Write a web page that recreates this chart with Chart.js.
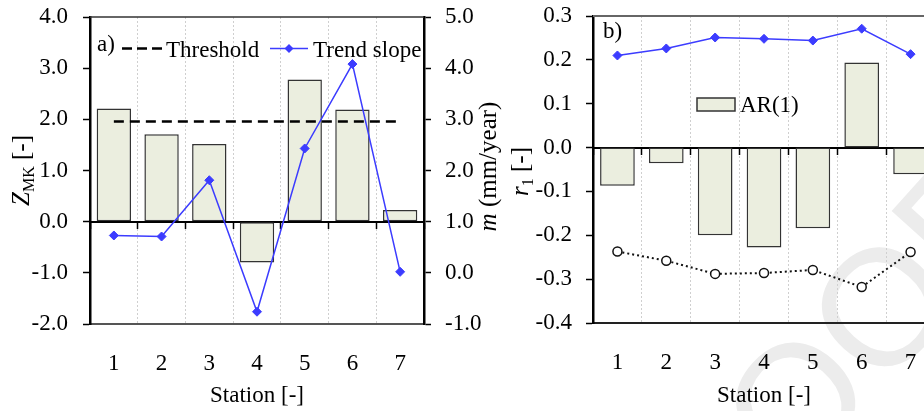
<!DOCTYPE html>
<html>
<head>
<meta charset="utf-8">
<script src="https://cdn.jsdelivr.net/npm/chart.js@4.4.1/dist/chart.umd.min.js"></script>
<style>
  html, body { margin: 0; padding: 0; background: #fff; overflow: hidden; }
  #wrap { position: relative; width: 924px; height: 411px; overflow: hidden; }
  canvas { position: absolute; top: 0; }
  #chartA { left: 0; }
  #chartB { left: 505px; }
</style>
</head>
<body>
<div id="wrap">
  <canvas id="chartA" width="505" height="411"></canvas>
  <canvas id="chartB" width="495" height="411"></canvas>
</div>
<script>
// stations along the x axis
const stations = ['1', '2', '3', '4', '5', '6', '7'];

// panel a) Mann-Kendall Z, significance threshold, trend slope (mm/year)
const zmk = [2.21, 1.71, 1.52, -0.80, 2.78, 2.19, 0.23];
const threshold = [1.96, 1.96, 1.96, 1.96, 1.96, 1.96, 1.96];
const trendSlope = [0.73, 0.71, 1.81, -0.76, 2.43, 4.08, 0.02];

// panel b) lag-1 autocorrelation and its upper / lower limits
const ar1 = [-0.087, -0.036, -0.200, -0.228, -0.184, 0.194, -0.061];
const upperLimit = [0.210, 0.226, 0.251, 0.248, 0.244, 0.271, 0.213];
const lowerLimit = [-0.237, -0.258, -0.288, -0.286, -0.279, -0.318, -0.238];

const serif = '"Liberation Serif", "Times New Roman", serif';
const barFill = '#ebeedf';
const blue = '#3c3cff';
const tickFont = { family: serif, size: 23 };

Chart.defaults.font.family = serif;
Chart.defaults.font.size = 23;
Chart.defaults.color = '#000';
Chart.defaults.animation = false;

// one decimal on every axis, no "-0.0"
function fmt(v) {
  return Math.abs(v) < 1e-9 ? '0.0' : Number(v).toFixed(1);
}

// fixed axis sizes, so the plot areas sit where they are in the figure;
// label overhang is dropped so it does not push the plot area in
function fixWidth(w) {
  return (scale) => { scale.width = w; scale.paddingTop = 0; scale.paddingBottom = 0; };
}
function fixHeight(h) {
  return (scale) => { scale.height = h; scale.paddingLeft = 0; scale.paddingRight = 0; };
}

// text made of parts (italic letters, subscripts), optionally rotated
function drawParts(ctx, parts, x, y, rotate) {
  ctx.save();
  ctx.translate(x, y);
  if (rotate) ctx.rotate(-Math.PI / 2);
  let total = 0;
  for (const p of parts) {
    ctx.font = p.font;
    total += ctx.measureText(p.text).width;
  }
  let cx = -total / 2;
  ctx.fillStyle = '#000';
  ctx.textAlign = 'left';
  ctx.textBaseline = 'alphabetic';
  for (const p of parts) {
    ctx.font = p.font;
    ctx.fillText(p.text, cx, p.dy || 0);
    cx += ctx.measureText(p.text).width;
  }
  ctx.restore();
}

function diamond(ctx, x, y, r, color) {
  ctx.save();
  ctx.fillStyle = color;
  ctx.beginPath();
  ctx.moveTo(x, y - r);
  ctx.lineTo(x + r, y);
  ctx.lineTo(x, y + r);
  ctx.lineTo(x - r, y);
  ctx.closePath();
  ctx.fill();
  ctx.restore();
}

// thin line on top of the plot area
function frameTop(color, width) {
  return {
    id: 'frameTop',
    afterDraw(chart) {
      const {ctx, chartArea} = chart;
      ctx.save();
      ctx.strokeStyle = color;
      ctx.lineWidth = width;
      ctx.beginPath();
      ctx.moveTo(chartArea.left, chartArea.top);
      ctx.lineTo(chartArea.right, chartArea.top);
      ctx.stroke();
      ctx.restore();
    }
  };
}

const titleFont = '25px ' + serif;
const italicFont = 'italic 25px ' + serif;
const subFont = '16px ' + serif;

// the axis scale options shared by the value axes
function valueAxis(pos, min, max, step, pad, width) {
  return {
    position: pos,
    min: min,
    max: max,
    ticks: { stepSize: step, padding: pad, callback: fmt, font: tickFont, color: '#000' },
    grid: { drawOnChartArea: false, drawTicks: true, tickLength: 7, tickColor: '#000', tickWidth: 1.5 },
    border: { display: true, color: '#000', width: 2.5 },
    afterFit: fixWidth(width)
  };
}

function stationAxis(height, borderColor) {
  return {
    type: 'category',
    position: 'bottom',
    offset: true,
    grid: { display: true, offset: true, drawOnChartArea: true, drawTicks: false, color: '#cfcfcf', lineWidth: 1 },
    border: { display: true, color: borderColor, width: 2, dash: [2, 2] },
    ticks: { padding: 26, maxRotation: 0, autoSkip: false, font: tickFont, color: '#000' },
    afterFit: fixHeight(height)
  };
}

// second category axis sitting on y = 0, only for the small ticks there
function zeroAxis() {
  return {
    type: 'category',
    axis: 'x',
    position: { y: 0 },
    offset: true,
    grid: { display: true, offset: true, drawOnChartArea: false, drawTicks: true, tickLength: 6, tickColor: '#000', tickWidth: 1.5 },
    border: { display: true, color: '#000', width: 2 },
    ticks: { display: false }
  };
}

// ---------- panel a ----------
const legendA = {
  id: 'legendA',
  afterDraw(chart) {
    const ctx = chart.ctx;
    const th = chart.data.datasets[1];
    const tr = chart.data.datasets[2];
    ctx.save();
    ctx.font = '23px ' + serif;
    ctx.fillStyle = '#000';
    ctx.textBaseline = 'alphabetic';
    ctx.fillText('a)', 97, 51);
    // threshold sample
    ctx.strokeStyle = th.borderColor;
    ctx.lineWidth = th.borderWidth;
    ctx.setLineDash([10, 5]);
    ctx.beginPath();
    ctx.moveTo(122, 48.5);
    ctx.lineTo(162, 48.5);
    ctx.stroke();
    ctx.setLineDash([]);
    ctx.fillText(th.label, 166, 57);
    // trend slope sample
    ctx.strokeStyle = tr.borderColor;
    ctx.lineWidth = tr.borderWidth;
    ctx.beginPath();
    ctx.moveTo(270, 48.5);
    ctx.lineTo(308, 48.5);
    ctx.stroke();
    diamond(ctx, 289, 48.5, tr.pointRadius, tr.pointBackgroundColor);
    ctx.fillText(tr.label, 313, 57);
    ctx.restore();
  }
};

const titlesA = {
  id: 'titlesA',
  afterDraw(chart) {
    const {ctx, chartArea} = chart;
    const midY = (chartArea.top + chartArea.bottom) / 2;
    drawParts(ctx, [{ text: 'Station [-]', font: '23px ' + serif }],
      (chartArea.left + chartArea.right) / 2, 402, false);
    drawParts(ctx, [
      { text: 'Z', font: italicFont },
      { text: 'MK', font: subFont, dy: 5 },
      { text: ' [-]', font: titleFont }
    ], 29, midY, true);
    drawParts(ctx, [
      { text: 'm', font: italicFont },
      { text: ' (mm/year)', font: titleFont }
    ], 496, midY - 4, true);
  }
};

new Chart(document.getElementById('chartA'), {
  type: 'bar',
  data: {
    labels: stations,
    datasets: [
      {
        type: 'bar', label: 'ZMK', data: zmk, xAxisID: 'x', yAxisID: 'y',
        backgroundColor: barFill, borderColor: '#333', borderWidth: 1.5, borderSkipped: false,
        categoryPercentage: 1, barPercentage: 0.72, order: 3
      },
      {
        type: 'line', label: 'Threshold', data: threshold, xAxisID: 'x', yAxisID: 'y',
        borderColor: '#000', borderWidth: 2.5, borderDash: [10, 6], pointRadius: 0, order: 2
      },
      {
        type: 'line', label: 'Trend slope', data: trendSlope, xAxisID: 'x', yAxisID: 'y1',
        borderColor: blue, borderWidth: 1.5, pointStyle: 'rectRot', pointRadius: 4.5,
        pointBackgroundColor: blue, pointBorderColor: blue, pointBorderWidth: 1, order: 1
      }
    ]
  },
  options: {
    responsive: false,
    animation: false,
    layout: { padding: { top: 17, left: 0, right: 0, bottom: 0 } },
    plugins: { legend: { display: false }, tooltip: { enabled: false } },
    scales: {
      x: stationAxis(87, '#555'),
      xZero: zeroAxis(),
      y: valueAxis('left', -2, 4, 1, 15, 90),
      y1: valueAxis('right', -1, 5, 1, 14, 81)
    }
  },
  plugins: [frameTop('#333', 1.5), legendA, titlesA]
});

// ---------- panel b ----------
const watermark = {
  id: 'watermark',
  beforeDraw(chart) {
    const ctx = chart.ctx;
    ctx.save();
    ctx.font = '165px "Liberation Sans", Arial, sans-serif';
    ctx.fillStyle = '#ececec';
    ctx.translate(462, 297);
    ctx.rotate(-48 * Math.PI / 180);
    const w = ctx.measureText('PROO').width;
    ctx.fillText('PROOF', -w, 0);
    ctx.restore();
  }
};

const legendB = {
  id: 'legendB',
  afterDraw(chart) {
    const ctx = chart.ctx;
    const bar = chart.data.datasets[0];
    ctx.save();
    ctx.font = '23px ' + serif;
    ctx.fillStyle = '#000';
    ctx.fillText('b)', 98, 38);
    ctx.fillStyle = bar.backgroundColor;
    ctx.strokeStyle = bar.borderColor;
    ctx.lineWidth = bar.borderWidth;
    ctx.fillRect(192, 98, 38, 13);
    ctx.strokeRect(192, 98, 38, 13);
    ctx.fillStyle = '#000';
    ctx.fillText(bar.label, 235, 112);
    ctx.restore();
  }
};

const titlesB = {
  id: 'titlesB',
  afterDraw(chart) {
    const {ctx, chartArea} = chart;
    const midY = (chartArea.top + chartArea.bottom) / 2;
    drawParts(ctx, [{ text: 'Station [-]', font: '23px ' + serif }],
      (chartArea.left + chartArea.right) / 2, 402, false);
    drawParts(ctx, [
      { text: 'r', font: italicFont },
      { text: '1', font: subFont, dy: 5 },
      { text: ' [-]', font: titleFont }
    ], 23, midY + 2, true);
  }
};

new Chart(document.getElementById('chartB'), {
  type: 'bar',
  data: {
    labels: stations,
    datasets: [
      {
        type: 'bar', label: 'AR(1)', data: ar1, xAxisID: 'x', yAxisID: 'y',
        backgroundColor: barFill, borderColor: '#333', borderWidth: 1.5, borderSkipped: false,
        categoryPercentage: 1, barPercentage: 0.71, order: 3
      },
      {
        type: 'line', label: 'Upper limit', data: upperLimit, xAxisID: 'x', yAxisID: 'y',
        borderColor: blue, borderWidth: 1.5, pointStyle: 'rectRot', pointRadius: 4.5,
        pointBackgroundColor: blue, pointBorderColor: blue, pointBorderWidth: 1, order: 1
      },
      {
        type: 'line', label: 'Lower limit', data: lowerLimit, xAxisID: 'x', yAxisID: 'y',
        borderColor: '#111', borderWidth: 2, borderDash: [2, 3], pointStyle: 'circle', pointRadius: 4.5,
        pointBackgroundColor: '#fff', pointBorderColor: '#111', pointBorderWidth: 1.5, order: 2
      }
    ]
  },
  options: {
    responsive: false,
    animation: false,
    layout: { padding: { top: 16, left: 0, right: 65, bottom: 0 } },
    plugins: { legend: { display: false }, tooltip: { enabled: false } },
    scales: {
      x: stationAxis(88, '#222'),
      xZero: zeroAxis(),
      y: valueAxis('left', -0.4, 0.3, 0.1, 14, 88)
    }
  },
  plugins: [watermark, frameTop('#666', 2), legendB, titlesB]
});
</script>
</body>
</html>
